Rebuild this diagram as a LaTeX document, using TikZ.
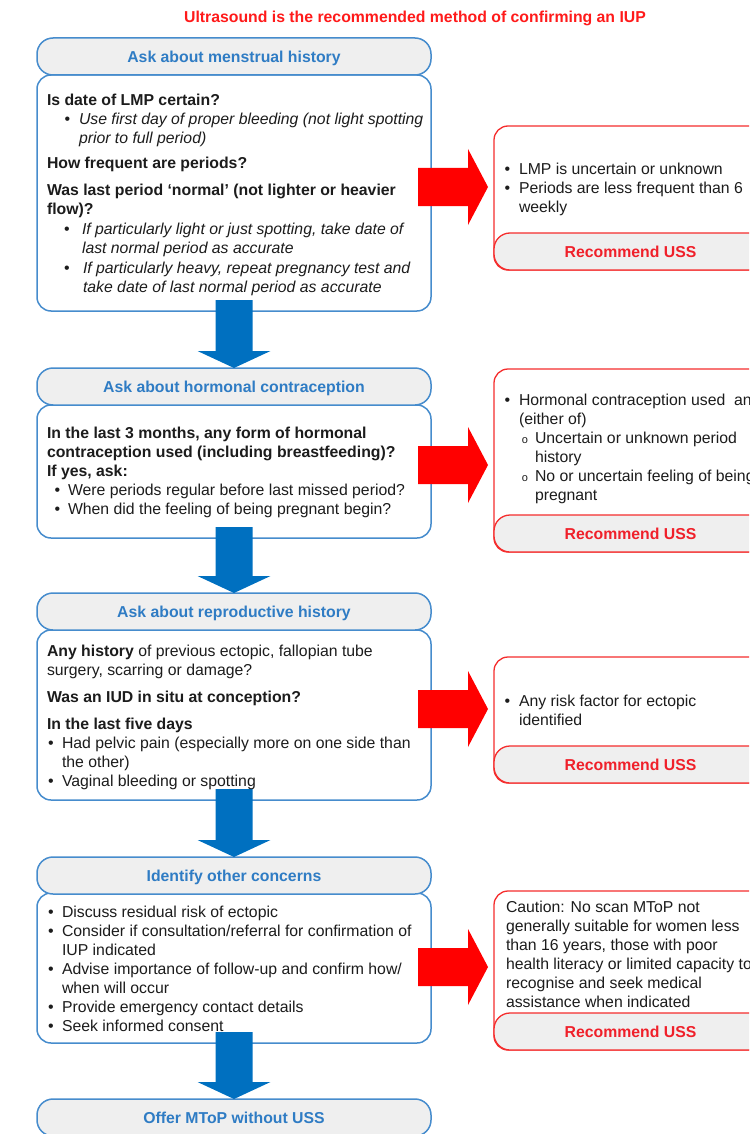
\documentclass[tikz,border=0pt]{standalone}
\usepackage{fontspec}
\setmainfont{Liberation Sans}
\usetikzlibrary{calc}

\definecolor{bborder}{RGB}{70,140,205}
\definecolor{hdrfill}{RGB}{239,239,239}
\definecolor{hdrtext}{RGB}{47,124,196}
\definecolor{flowblue}{RGB}{0,112,192}
\definecolor{flowred}{RGB}{255,0,0}
\definecolor{rborder}{RGB}{245,45,45}
\definecolor{usstext}{RGB}{240,32,42}
\definecolor{titlered}{RGB}{255,26,26}
\definecolor{bodytext}{RGB}{28,28,28}

\newcommand\bodyfont{\fontsize{15.8}{19}\selectfont}
\newcommand\bu{{\fontsize{16}{16}\selectfont\textbullet}}
\newcommand\ob{{\fontsize{11}{11}\selectfont o}}
% bullet: #1 = bullet centre from left edge, #2 = bullet centre to text
\newcommand\bitem[2]{\hspace*{#1}\makebox[0pt][c]{\bu}\hspace*{#2}}
\newcommand\oitem[2]{\hspace*{#1}\makebox[0pt][c]{\ob}\hspace*{#2}}

% thick blue down arrow from one box to the next header
\newcommand\blueflow[2]{%
  \fill[flowblue] ($(#1.south)+(-18.5,-11)$) -- ($(#2.north)+(-18.5,-17)$)
    -- ($(#2.north)+(-36.5,-17)$) -- (#2.north) -- ($(#2.north)+(36.5,-17)$)
    -- ($(#2.north)+(18.5,-17)$) -- ($(#1.south)+(18.5,-11)$) -- cycle;}
% thick red right arrow from a question box to its alert box, at height #3
\newcommand\redflow[3]{%
  \fill[flowred] ($(#1.east |- #3)+(-13,-19)$) -- ($(#2.west |- #3)+(-26,-19)$)
    -- ($(#2.west |- #3)+(-26,-38)$) -- ($(#2.west |- #3)+(-6,0)$)
    -- ($(#2.west |- #3)+(-26,38)$) -- ($(#2.west |- #3)+(-26,19)$)
    -- ($(#1.east |- #3)+(-13,19)$) -- cycle;}

\tikzset{
  hdrbox/.style={draw=bborder, fill=hdrfill, line width=1.5pt, rounded corners=16pt,
    minimum width=394pt, minimum height=37pt, anchor=north west, inner sep=0pt,
    outer sep=0pt, text=hdrtext, font=\bodyfont\bfseries, text height=11.3pt, text depth=0pt},
  bodybox/.style={draw=bborder, fill=white, line width=1.5pt, rounded corners=14pt,
    minimum width=394pt, anchor=north west, inner sep=0pt, outer sep=0pt},
  alertbox/.style={draw=rborder, fill=white, line width=1.3pt, rounded corners=14pt,
    minimum width=273pt, anchor=north west, inner sep=0pt, outer sep=0pt},
  ussbox/.style={draw=rborder, fill=hdrfill, line width=1.3pt, rounded corners=16pt,
    minimum width=273pt, minimum height=37pt, anchor=north west, inner sep=0pt,
    outer sep=0pt, text=usstext, font=\bodyfont\bfseries, text height=11.3pt, text depth=0pt},
  txtblock/.style={anchor=north west, inner sep=0pt, outer sep=0pt, align=left,
    font=\bodyfont, text=bodytext},
}

\begin{document}
\begin{tikzpicture}[x=1pt,y=-1pt]
\useasboundingbox (0,0) rectangle (749,1134);
\clip (0,0) rectangle (749,1134);

% title
\node[anchor=base, inner sep=0pt, text=titlered, font=\bodyfont\bfseries] (title) at (415,22.5)
  {Ultrasound is the recommended method of confirming an IUP};

% question boxes
\node[bodybox, minimum height=236pt] (b1) at (37,75) {};
\node[hdrbox] (h1) at (37,38) {Ask about menstrual history};
\node[bodybox, minimum height=133pt] (b2) at (37,405) {};
\node[hdrbox] (h2) at (37,368) {Ask about hormonal contraception};
\node[bodybox, minimum height=170pt] (b3) at (37,630) {};
\node[hdrbox] (h3) at (37,593) {Ask about reproductive history};
\node[bodybox, minimum height=150pt] (b4) at (37,893) {};
\node[hdrbox] (h4) at (37,857) {Identify other concerns};
\node[hdrbox] (h5) at (37,1099) {Offer MToP without USS};

% alert boxes
\node[alertbox, minimum height=144pt] (r1) at (494,126) {};
\node[ussbox] (u1) at (494,233) {Recommend USS};
\node[alertbox, minimum height=183pt] (r2) at (494,369) {};
\node[ussbox] (u2) at (494,515) {Recommend USS};
\node[alertbox, minimum height=126pt] (r3) at (494,657) {};
\node[ussbox] (u3) at (494,746) {Recommend USS};
\node[alertbox, minimum height=159pt] (r4) at (494,891) {};
\node[ussbox] (u4) at (494,1013) {Recommend USS};

% flow arrows
\blueflow{b1}{h2}
\blueflow{b2}{h3}
\blueflow{b3}{h4}
\blueflow{b4}{h5}
\coordinate (ry1) at (0,187);
\coordinate (ry2) at (0,465);
\coordinate (ry3) at (0,709);
\coordinate (ry4) at (0,967);
\redflow{b1}{r1}{ry1}
\redflow{b2}{r2}{ry2}
\redflow{b3}{r3}{ry3}
\redflow{b4}{r4}{ry4}

% question texts
\node[txtblock] (t1) at (47,91.7) {%
  \strut\textbf{Is date of LMP certain?}\\
  \bitem{20.5pt}{11.5pt}\textit{Use first day of proper bleeding (not light spotting}\\
  \hspace*{32pt}\textit{prior to full period)}\\[6pt]
  \textbf{How frequent are periods?}\\[8pt]
  \textbf{Was last period ‘normal’ (not lighter or heavier}\\
  \textbf{flow)?}\\[1pt]
  \bitem{20pt}{15pt}\textit{If particularly light or just spotting, take date of}\\
  \hspace*{35pt}\textit{last normal period as accurate}\\[1pt]
  \bitem{20pt}{16pt}\textit{If particularly heavy, repeat pregnancy test and}\\
  \hspace*{36pt}\textit{take date of last normal period as accurate}};

\node[txtblock] (t2) at (47,424.7) {%
  \strut\textbf{In the last 3 months, any form of hormonal}\\
  \textbf{contraception used (including breastfeeding)?}\\
  \textbf{If yes, ask:}\\
  \bitem{10.5pt}{10.5pt}Were periods regular before last missed period?\\
  \bitem{10.5pt}{10.5pt}When did the feeling of being pregnant begin?};

\node[txtblock] (t3) at (47,642.7) {%
  \strut\textbf{Any history} of previous ectopic, fallopian tube\\
  surgery, scarring or damage?\\[8pt]
  \textbf{Was an IUD in situ at conception?}\\[8pt]
  \textbf{In the last five days}\\
  \bitem{4pt}{11pt}Had pelvic pain (especially more on one side than\\
  \hspace*{15pt}the other)\\
  \bitem{4pt}{11pt}Vaginal bleeding or spotting};

\node[txtblock] (t4) at (47,903.7) {%
  \strut\bitem{4pt}{11pt}Discuss residual risk of ectopic\\
  \bitem{4pt}{11pt}Consider if consultation/referral for confirmation of\\
  \hspace*{15pt}IUP indicated\\
  \bitem{4pt}{11pt}Advise importance of follow-up and confirm how/\\
  \hspace*{15pt}when will occur\\
  \bitem{4pt}{11pt}Provide emergency contact details\\
  \bitem{4pt}{11pt}Seek informed consent};

% alert texts
\node[txtblock] (a1) at (500,160.7) {%
  \strut\bitem{7.5pt}{11.5pt}LMP is uncertain or unknown\\
  \bitem{7.5pt}{11.5pt}Periods are less frequent than 6\\
  \hspace*{19pt}weekly};

\node[txtblock] (a2) at (500,391.7) {%
  \strut\bitem{7.5pt}{11.5pt}Hormonal contraception used~ and\\
  \hspace*{19pt}(either of)\\
  \oitem{25pt}{10pt}Uncertain or unknown period\\
  \hspace*{35pt}history\\
  \oitem{25pt}{10pt}No or uncertain feeling of being\\
  \hspace*{35pt}pregnant};

\node[txtblock] (a3) at (500,692.7) {%
  \strut\bitem{7.5pt}{11.5pt}Any risk factor for ectopic\\
  \hspace*{19pt}identified};

\node[txtblock] (a4) at (506,898.7) {%
  \strut Caution: No scan MToP not\\
  generally suitable for women less\\
  than 16 years, those with poor\\
  health literacy or limited capacity to\\
  recognise and seek medical\\
  assistance when indicated};
\end{tikzpicture}
\end{document}
